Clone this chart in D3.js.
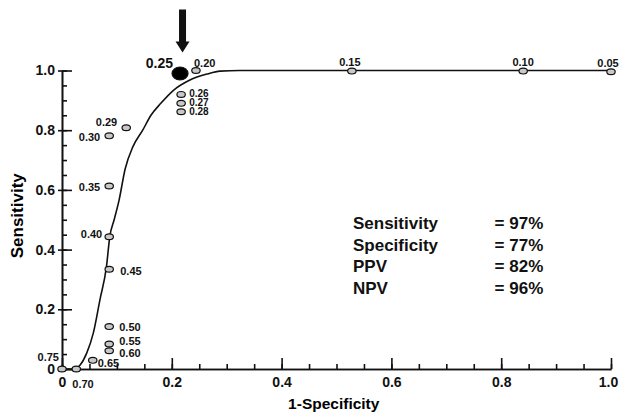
<!DOCTYPE html>
<html>
<head>
<meta charset="utf-8">
<script src="https://cdn.jsdelivr.net/npm/d3@7"></script>
<style>
    body { margin: 0; background: #fff; }
    svg { display: block; font-family: "Liberation Sans", Arial, Helvetica, sans-serif; }
    .roc-axis path, .roc-axis line { stroke: #111; stroke-width: 1.6; }
    .roc-axis text { font-size: 14px; font-weight: bold; fill: #111; }
    .roc-curve { fill: none; stroke: #111; stroke-width: 1.6; }
    .roc-point { fill: #c8c8c8; stroke: #111; stroke-width: 1.2; }
    .roc-label { font-size: 11px; font-weight: bold; fill: #111; }
    .roc-stat { font-size: 17px; font-weight: bold; fill: #111; }
</style>
</head>
<body>
<div id="chart"></div>
<script>
// ROC curve: [1-specificity, sensitivity]
const curvePoints = [
    [0, 0], [0.024, 0], [0.033, 0.013], [0.045, 0.053], [0.057, 0.12],
    [0.069, 0.231], [0.081, 0.343], [0.087, 0.443], [0.095, 0.5],
    [0.104, 0.566], [0.115, 0.67], [0.129, 0.744], [0.147, 0.8],
    [0.162, 0.85], [0.18, 0.89], [0.202, 0.932], [0.233, 0.968],
    [0.264, 0.988], [0.288, 0.998], [0.324, 1.0], [1.0, 1.0]
]

// cut-off values and where each one sits
const cutoffs = ['0.05', '0.10', '0.15', '0.20', '0.25', '0.26', '0.27', '0.28', '0.29', '0.30',
    '0.35', '0.40', '0.45', '0.50', '0.55', '0.60', '0.65', '0.70', '0.75']
const cutoffFpr = [1.0, 0.84, 0.528, 0.244, 0.215, 0.217, 0.217, 0.217, 0.117, 0.086,
    0.086, 0.086, 0.086, 0.086, 0.086, 0.086, 0.056, 0.026, 0]
const cutoffSens = [0.996, 0.998, 0.998, 1.0, 0.99, 0.92, 0.89, 0.862, 0.808, 0.781,
    0.613, 0.443, 0.334, 0.142, 0.084, 0.061, 0.029, 0, 0]
const bestCutoff = '0.25'

const statNames = ['Sensitivity', 'Specificity', 'PPV', 'NPV']
const statValues = ['= 97%', '= 77%', '= 82%', '= 96%']

const xTicks = [0, 0.2, 0.4, 0.6, 0.8, 1.0]
const yTicks = [0, 0.2, 0.4, 0.6, 0.8, 1.0]
const minorTicks = d3.range(0, 1.0001, 0.05)

// label placement around each point: [dx, dy, anchor, font size]
const labelPlacement = {
    '0.05': [-3, -9, 'middle'], '0.10': [0, -9, 'middle'], '0.15': [-2, -9, 'middle'],
    '0.20': [-2, -7, 'start'], '0.25': [-7, -10, 'end', 14],
    '0.26': [8, -1, 'start', 10], '0.27': [8, -0.5, 'start', 10], '0.28': [8, 0, 'start', 10],
    '0.29': [-9, -6, 'end'], '0.30': [-9, 1, 'end'], '0.35': [-9, 1, 'end'],
    '0.40': [-7, -3, 'end'], '0.45': [11, 2, 'start'], '0.50': [10, 1, 'start'],
    '0.55': [10, -3, 'start'], '0.60': [10, 2, 'start'], '0.65': [5, 3, 'start'],
    '0.70': [-4, 15, 'start'], '0.75': [-3, -12, 'end']
}

const width = 619
const height = 418
const margin = { top: 70.5, right: 8, bottom: 49, left: 62 }

const svg = d3.select('#chart')
    .append('svg')
    .attr('width', width)
    .attr('height', height)

const x = d3.scaleLinear()
    .domain([0, 1])
    .range([margin.left, width - margin.right])
const y = d3.scaleLinear()
    .domain([0, 1])
    .range([height - margin.bottom, margin.top])

const fmt = d => d === 0 ? '0' : d3.format('.1f')(d)

// minor ticks first, major axes drawn over them
svg.append('g')
    .attr('class', 'roc-axis')
    .attr('transform', `translate(${x(0)},0)`)
    .call(d3.axisLeft(y).tickValues(minorTicks).tickSizeInner(-5).tickSizeOuter(0).tickFormat(''))
svg.append('g')
    .attr('class', 'roc-axis')
    .attr('transform', `translate(0,${y(0)})`)
    .call(d3.axisBottom(x).tickValues(minorTicks).tickSizeInner(-5).tickSizeOuter(0).tickFormat(''))

const yAxis = svg.append('g')
    .attr('class', 'roc-axis')
    .attr('transform', `translate(${x(0)},0)`)
    .call(d3.axisLeft(y).tickValues(yTicks).tickSizeInner(-10).tickSizeOuter(0).tickPadding(7).tickFormat(fmt))
yAxis.selectAll('.tick line').attr('x1', -4)

const xAxis = svg.append('g')
    .attr('class', 'roc-axis')
    .attr('transform', `translate(0,${y(0)})`)
    .call(d3.axisBottom(x).tickValues(xTicks).tickSizeInner(-11).tickSizeOuter(0).tickPadding(8).tickFormat(fmt))
// keep the last label inside the frame, as in the scan
xAxis.selectAll('.tick text').filter(d => d === 1).attr('x', -3)

svg.append('text')
    .attr('transform', `translate(${x(0) - 39.5},${y(0.5) - 4}) rotate(-90)`)
    .attr('text-anchor', 'middle')
    .style('font-size', '17px')
    .style('font-weight', 'bold')
    .text('Sensitivity')

svg.append('text')
    .attr('x', x(0.495))
    .attr('y', height - 9)
    .attr('text-anchor', 'middle')
    .style('font-size', '15.5px')
    .style('font-weight', 'bold')
    .text('1-Specificity')

const line = d3.line()
    .x(d => x(d[0]))
    .y(d => y(d[1]))
    .curve(d3.curveMonotoneX)

svg.append('path')
    .datum(curvePoints)
    .attr('class', 'roc-curve')
    .attr('d', line)

const points = cutoffs.map((c, i) => ({ cut: c, fpr: cutoffFpr[i], sens: cutoffSens[i] }))

const pointArea = svg.append('g')
pointArea.selectAll('ellipse')
    .data(points)
    .enter()
    .append('ellipse')
    .attr('class', 'roc-point')
    .attr('cx', d => x(d.fpr))
    .attr('cy', d => y(d.sens))
    .attr('rx', d => d.cut === bestCutoff ? 8 : 4.2)
    .attr('ry', d => d.cut === bestCutoff ? 6.5 : 2.9)
    .style('fill', d => d.cut === bestCutoff ? '#000' : null)

pointArea.selectAll('text')
    .data(points)
    .enter()
    .append('text')
    .attr('class', 'roc-label')
    .attr('x', d => x(d.fpr) + labelPlacement[d.cut][0])
    .attr('y', d => y(d.sens) + labelPlacement[d.cut][1])
    .attr('dy', '0.35em')
    .attr('text-anchor', d => labelPlacement[d.cut][2])
    .style('font-size', d => labelPlacement[d.cut][3] ? `${labelPlacement[d.cut][3]}px` : null)
    .text(d => d.cut)

// arrow pointing at the chosen cut-off
const best = points.find(d => d.cut === bestCutoff)
const ax = x(best.fpr) + 2.5
const ay = y(best.sens) - 21
svg.append('path')
    .attr('d', `M${ax - 3.5},${ay - 43} L${ax + 3.5},${ay - 43} L${ax + 3.5},${ay - 11}
        L${ax + 7},${ay - 11} L${ax},${ay} L${ax - 7},${ay - 11} L${ax - 3.5},${ay - 11} Z`)
    .attr('fill', '#111')

const statArea = svg.append('g')
statArea.selectAll('.stat-name')
    .data(statNames)
    .enter()
    .append('text')
    .attr('class', 'roc-stat stat-name')
    .attr('x', x(0.53))
    .attr('y', (d, i) => 229 + i * 21.5)
    .text(d => d)
statArea.selectAll('.stat-value')
    .data(statValues)
    .enter()
    .append('text')
    .attr('class', 'roc-stat stat-value')
    .attr('x', x(0.788))
    .attr('y', (d, i) => 229 + i * 21.5)
    .text(d => d)
</script>
</body>
</html>
